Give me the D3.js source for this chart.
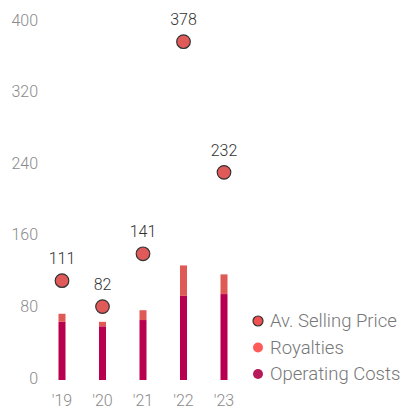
<!DOCTYPE html>
<html>
<head>
<meta charset="utf-8">
<script src="https://cdn.jsdelivr.net/npm/d3@7"></script>
<style>
  body { margin: 0; background: #fff; }
  svg text { font-family: Roboto, "Liberation Sans", Arial, sans-serif; font-weight: 300; }
</style>
</head>
<body>
<svg></svg>
<script>
// data
const years = ["'19", "'20", "'21", "'22", "'23"];
const operatingCosts = [65, 60, 67, 94, 96];
const royalties = [9, 5, 11, 34, 22];
const sellingPrice = [111, 82, 141, 378, 232];
const yTicks = [0, 80, 160, 240, 320, 400];
const legendLabels = ["Av. Selling Price", "Royalties", "Operating Costs"];

let width = 409,
  height = 409;

let svg = d3.select("svg").attr("width", width).attr("height", height);

let x = d3.scalePoint().domain(years).range([62, 224]);
let y = d3.scaleLinear().domain([0, 400]).range([380, 22]);

const opColor = "#b8004f";
const royColor = "#e05a55";
const dotColor = "#e05a5a";

// y axis labels
svg
  .append("g")
  .selectAll("text")
  .data(yTicks)
  .enter()
  .append("text")
  .attr("x", 38)
  .attr("y", (d) => y(d) - 2)
  .attr("dy", "0.35em")
  .attr("text-anchor", "end")
  .attr("fill", "#8a8a8a")
  .style("font-size", "16px")
  .text((d) => d);

// x axis labels
svg
  .append("g")
  .selectAll("text")
  .data(years)
  .enter()
  .append("text")
  .attr("x", (d) => x(d))
  .attr("y", 400)
  .attr("dy", "0.35em")
  .attr("text-anchor", "middle")
  .attr("fill", "#8a8a8a")
  .style("font-size", "16px")
  .text((d) => d);

const barW = 7;

// operating costs
svg
  .append("g")
  .selectAll("rect")
  .data(years)
  .enter()
  .append("rect")
  .attr("x", (d) => x(d) - barW / 2)
  .attr("width", barW)
  .attr("y", (d, i) => y(operatingCosts[i]))
  .attr("height", (d, i) => y(0) - y(operatingCosts[i]))
  .attr("fill", opColor);

// royalties stacked on top
svg
  .append("g")
  .selectAll("rect")
  .data(years)
  .enter()
  .append("rect")
  .attr("x", (d) => x(d) - barW / 2)
  .attr("width", barW)
  .attr("y", (d, i) => y(operatingCosts[i] + royalties[i]))
  .attr("height", (d, i) => y(operatingCosts[i]) - y(operatingCosts[i] + royalties[i]))
  .attr("fill", royColor);

// selling price dots
svg
  .append("g")
  .selectAll("circle")
  .data(years)
  .enter()
  .append("circle")
  .attr("cx", (d) => x(d))
  .attr("cy", (d, i) => y(sellingPrice[i]))
  .attr("r", 6.8)
  .attr("fill", dotColor)
  .attr("stroke", "#333")
  .attr("stroke-width", 1.2);

svg
  .append("g")
  .selectAll("text")
  .data(years)
  .enter()
  .append("text")
  .attr("x", (d) => x(d))
  .attr("y", (d, i) => y(sellingPrice[i]) - 22)
  .attr("dy", "0.35em")
  .attr("text-anchor", "middle")
  .attr("fill", "#333")
  .style("font-size", "16px")
  .text((d, i) => sellingPrice[i]);

// legend
const legendColors = ["#f05050", "#ff5a5a", "#b8195a"];
let legend = svg
  .append("g")
  .selectAll("g")
  .data(legendLabels)
  .enter()
  .append("g")
  .attr("transform", (d, i) => `translate(258, ${321 + i * 26.5})`);

legend
  .append("circle")
  .attr("r", 5)
  .attr("fill", (d, i) => legendColors[i])
  .attr("stroke", (d, i) => (i === 0 ? "#333" : "none"))
  .attr("stroke-width", 1.2);

legend
  .append("text")
  .attr("x", 12)
  .attr("dy", "0.35em")
  .attr("fill", "#777")
  .style("font-size", "18.5px")
  .text((d) => d);
</script>
</body>
</html>
